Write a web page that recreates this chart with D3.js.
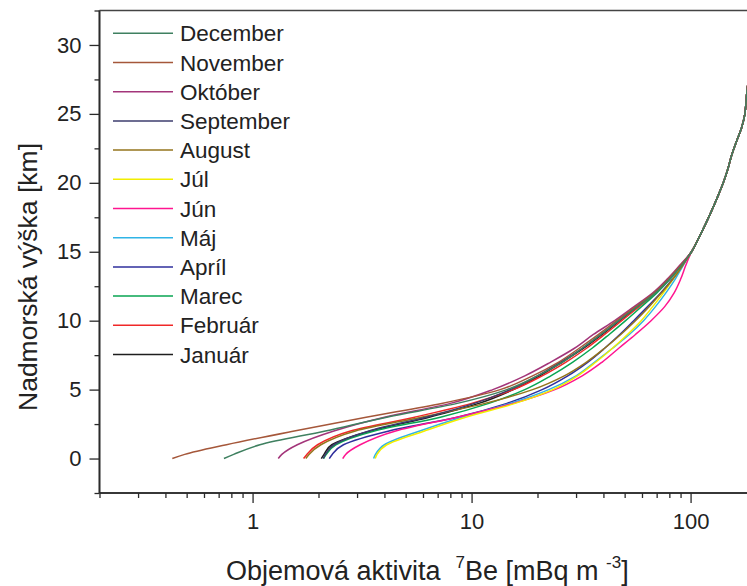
<!DOCTYPE html>
<html>
<head>
<meta charset="utf-8">
<script src="https://cdn.jsdelivr.net/npm/d3@7"></script>
<style>
  html, body { margin: 0; padding: 0; background: #fff; }
  svg { display: block; font-family: "Liberation Sans", Arial, Helvetica, sans-serif; }
  text { fill: #222; }
</style>
</head>
<body>
<svg id="chart" width="747" height="586"></svg>
<script>
// Monthly vertical profiles of 7Be volume activity (mBq m^-3) versus altitude (km)
const months = ["December", "November", "Október", "September", "August", "Júl",
                "Jún", "Máj", "Apríl", "Marec", "Február", "Január"];
const monthColors = ["#3f8060", "#a5573a", "#a3357a", "#3c3c6e", "#94741c", "#f2ee00",
                     "#ff1590", "#30b4e6", "#2f2f9c", "#08a552", "#f02828", "#1e1e1e"];

// altitude levels (km) of the lower troposphere, where months differ
const lowAltitudes = [0, 0.3, 1, 2, 3, 4, 5, 6, 7, 8, 9, 10, 11, 12, 13, 14];
// altitude levels (km) above, where all months share one profile
const highAltitudes = [15, 16, 17, 18, 19, 20, 21, 22, 23, 24, 25, 26, 27, 28];
const highProfile = [101, 109, 117, 125, 133, 141, 148, 154, 162, 171, 177, 179.5, 182, 195];

const december  = [0.74, 0.82, 1.08, 2.15, 4.1, 8.6, 14.5, 20, 26, 32, 39, 47, 57, 69, 80, 91];
const november  = [0.43, 0.49, 0.76, 1.55, 3.3, 7.3, 13.5, 19, 25, 31, 38, 46, 56, 68, 79, 90];
const oktober   = [1.31, 1.36, 1.6, 2.35, 4.0, 8.0, 12.5, 17.5, 23, 29.5, 36, 45, 55, 67, 78, 89];
const september = [2.1, 2.15, 2.35, 3.4, 6.2, 10.3, 15, 20, 25.5, 32, 39, 47, 56.5, 68, 79, 90];
const august    = [1.75, 1.81, 2.05, 2.95, 5.9, 11.5, 19, 26.5, 33.5, 40.5, 48, 56, 64.5, 73.5, 83, 92];
const jul       = [3.63, 3.7, 4.1, 6.1, 9.4, 15.8, 23.5, 30.5, 37, 44, 51.5, 59.5, 67, 75, 83, 91.5];
const jun       = [2.58, 2.66, 3.1, 4.5, 8.6, 15.5, 24, 32, 39.5, 47, 56, 66, 76, 84, 90, 95];
const maj       = [3.57, 3.64, 4.0, 5.8, 9.0, 15, 22.5, 30, 36.5, 44, 52.5, 61, 69, 77, 85, 92.5];
const april     = [2.24, 2.31, 2.6, 4.2, 8.6, 14.5, 21, 27.5, 34, 40.5, 47.5, 55, 63.5, 73, 82.5, 91.5];
const marec     = [2.11, 2.17, 2.4, 3.6, 7.2, 12, 17.5, 23, 29, 35.5, 42.5, 50.5, 59.5, 70, 80.5, 91];
const februar   = [1.71, 1.77, 1.98, 2.8, 5.5, 10, 15.5, 21, 27, 33.5, 40.5, 48.5, 58, 69, 80, 90.5];
const januar    = [2.06, 2.12, 2.3, 3.45, 6.4, 10.8, 15.5, 20.5, 26, 32.5, 39.5, 47.5, 57, 68.5, 79.5, 90.5];

const monthValues = [december, november, oktober, september, august, jul,
                     jun, maj, april, marec, februar, januar];

const xMajorTicks = [1, 10, 100];
const xMinorTicks = [0.2, 0.3, 0.4, 0.5, 0.6, 0.7, 0.8, 0.9, 2, 3, 4, 5, 6, 7, 8, 9,
                     20, 30, 40, 50, 60, 70, 80, 90, 200];
const yMajorTicks = [0, 5, 10, 15, 20, 25, 30];
const yMinorTicks = [-2.5, 2.5, 7.5, 12.5, 17.5, 22.5, 27.5, 32.5];

const svg = d3.select("#chart");
const plotLeft = 99.5, plotRight = 756.5, plotTop = 10.5, plotBottom = 493;

const x = d3.scaleLog().domain([0.2, 200]).range([plotLeft, plotRight]);
const y = d3.scaleLinear().domain([-2.5, 32.5]).range([plotBottom, plotTop]);

// plot clip
svg.append("defs").append("clipPath").attr("id", "plotClip")
  .append("rect").attr("x", plotLeft).attr("y", plotTop)
  .attr("width", plotRight - plotLeft).attr("height", plotBottom - plotTop);

// curves: Január first, December drawn last
const line = d3.line()
  .x(d => x(d.v))
  .y(d => y(d.h))
  .curve(d3.curveMonotoneY);

const curves = svg.append("g").attr("clip-path", "url(#plotClip)");
for (let i = months.length - 1; i >= 0; i--) {
  const pts = lowAltitudes.map((h, k) => ({ h, v: monthValues[i][k] }))
    .concat(highAltitudes.map((h, k) => ({ h, v: highProfile[k] })));
  curves.append("path")
    .datum(pts)
    .attr("d", line)
    .attr("fill", "none")
    .attr("stroke", monthColors[i])
    .attr("stroke-width", 1.5);
}

// axes
const axisColor = "#2a2a2a";
const xAxis = svg.append("g").attr("transform", `translate(0,${plotBottom})`);
xAxis.call(d3.axisBottom(x).tickValues(xMinorTicks).tickSize(5).tickFormat(""));
xAxis.append("g").call(d3.axisBottom(x).tickValues(xMajorTicks).tickSize(10)
  .tickFormat(d3.format("d")).tickPadding(10));
xAxis.selectAll(".domain").attr("d", `M${plotLeft},0H747`);
xAxis.selectAll("line").attr("stroke", axisColor).attr("stroke-width", 1.3);
xAxis.selectAll("path").attr("stroke", axisColor).attr("stroke-width", 1.6);
xAxis.selectAll("text").attr("font-size", 22).attr("fill", "#222")
  .attr("font-family", '"Liberation Sans", Arial, sans-serif');

const yAxis = svg.append("g").attr("transform", `translate(${plotLeft},0)`);
yAxis.call(d3.axisLeft(y).tickValues(yMinorTicks).tickSize(5).tickFormat(""));
yAxis.append("g").call(d3.axisLeft(y).tickValues(yMajorTicks).tickSize(10)
  .tickFormat(d3.format("d")).tickPadding(8));
yAxis.selectAll(".domain").attr("d", `M0,${plotBottom}V${plotTop}`);
yAxis.selectAll("line").attr("stroke", axisColor).attr("stroke-width", 1.3);
yAxis.selectAll("path").attr("stroke", axisColor).attr("stroke-width", 1.6);
yAxis.selectAll("text").attr("font-size", 22).attr("fill", "#222")
  .attr("font-family", '"Liberation Sans", Arial, sans-serif');

// top frame line
svg.append("line").attr("x1", plotLeft).attr("x2", 747).attr("y1", plotTop).attr("y2", plotTop)
  .attr("stroke", "#444").attr("stroke-width", 1.5);

// legend
const legend = svg.append("g");
months.forEach((m, i) => {
  const ly = 33.3 + i * 29.2;
  legend.append("line").attr("x1", 113).attr("x2", 173).attr("y1", ly).attr("y2", ly)
    .attr("stroke", monthColors[i]).attr("stroke-width", 1.5);
  legend.append("text").attr("x", 180).attr("y", ly + 8).attr("font-size", 22.5).text(m);
});

// axis titles
svg.append("text")
  .attr("transform", "translate(37,277) rotate(-90)")
  .attr("text-anchor", "middle")
  .attr("font-size", 26.5)
  .text("Nadmorská výška [km]");

const xt = svg.append("text")
  .attr("x", 226).attr("y", 580)
  .attr("font-size", 27)
  .style("white-space", "pre");
xt.append("tspan").text("Objemová aktivita  ");
xt.append("tspan").attr("font-size", 17).attr("dy", -12).text("7");
xt.append("tspan").attr("dy", 12).text("Be [mBq m ");
xt.append("tspan").attr("font-size", 17).attr("dy", -12).text("-3");
xt.append("tspan").attr("dy", 12).text("]");
</script>
</body>
</html>
